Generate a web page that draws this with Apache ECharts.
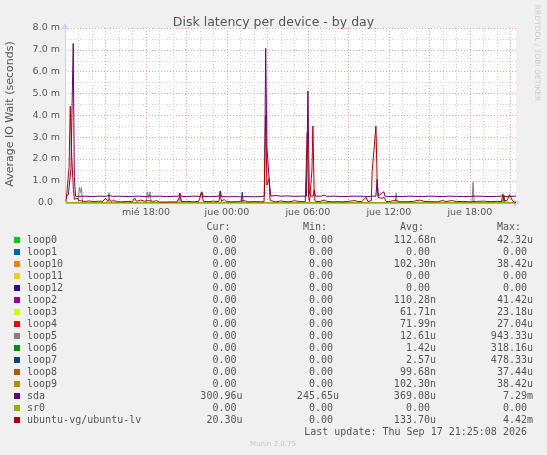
<!DOCTYPE html>
<html>
<head>
<meta charset="utf-8">
<script src="https://cdn.jsdelivr.net/npm/echarts@6/dist/echarts.min.js"></script>
<style>
  html, body { margin: 0; padding: 0; background: #f0f0f0; }
  #disk-latency { width: 547px; height: 455px; }
</style>
</head>
<body>
<div id="disk-latency"></div>
<script>
// hours counted from Wed 00:00, values in milliseconds (the "m" on the axis)
const xTickHours = [18, 24, 30, 36, 42]
const xTickLabels = ['mié 18:00', 'jue 00:00', 'jue 06:00', 'jue 12:00', 'jue 18:00']

const devices = ['loop0', 'loop1', 'loop10', 'loop11', 'loop12', 'loop2', 'loop3', 'loop4',
  'loop5', 'loop6', 'loop7', 'loop8', 'loop9', 'sda', 'sr0', 'ubuntu-vg/ubuntu-lv']
const colors = ['#00CC00', '#0066B3', '#FF8000', '#FFCC00', '#330099', '#990099', '#CCFF00', '#FF0000',
  '#808080', '#008F00', '#00487D', '#B35A00', '#B38F00', '#6B006B', '#8FB300', '#B30000']

const curText = ['0.00', '0.00', '0.00', '0.00', '0.00', '0.00', '0.00', '0.00',
  '0.00', '0.00', '0.00', '0.00', '0.00', '300.96u', '0.00', '20.30u']
const minText = ['0.00', '0.00', '0.00', '0.00', '0.00', '0.00', '0.00', '0.00',
  '0.00', '0.00', '0.00', '0.00', '0.00', '245.65u', '0.00', '0.00']
const avgText = ['112.68n', '0.00', '102.30n', '0.00', '0.00', '110.28n', '61.71n', '71.99n',
  '12.61u', '1.42u', '2.57u', '99.68n', '102.30n', '369.08u', '0.00', '133.70u']
const maxText = ['42.32u', '0.00', '38.42u', '0.00', '0.00', '41.42u', '23.18u', '27.04u',
  '943.33u', '318.16u', '478.33u', '37.44u', '38.42u', '7.29m', '0.00', '4.42m']

const flat = [[12.08, 0], [45.42, 0]]

const loop5 = [[12.08, 0], [12.98, 0], [13.07, 0.70], [13.15, 0.45], [13.22, 0.70], [13.30, 0],
  [15.18, 0], [15.26, 0.46], [15.34, 0], [18.02, 0], [18.10, 0.50], [18.20, 0.20], [18.30, 0.50],
  [18.38, 0], [20.44, 0], [20.52, 0.43], [20.60, 0], [36.46, 0], [36.54, 0.44], [36.62, 0],
  [42.16, 0], [42.24, 0.94], [42.32, 0], [44.44, 0], [44.52, 0.35], [44.60, 0], [45.42, 0]]
const loop6 = [[12.08, 0], [44.44, 0], [44.52, 0.32], [44.60, 0], [45.42, 0]]
const loop7 = [[12.08, 0], [25.05, 0], [25.13, 0.48], [25.21, 0], [45.42, 0]]

const sda = [[12.08, 0.30], [12.25, 0.36], [12.44, 1.55], [12.52, 1.55], [12.61, 7.29], [12.69, 1.20],
  [12.78, 0.30], [13.10, 0.29], [13.50, 0.30], [14.00, 0.28], [14.50, 0.30], [15.00, 0.29],
  [15.27, 0.33], [15.50, 0.29], [16.00, 0.30], [16.50, 0.28], [17.00, 0.29], [17.50, 0.30],
  [18.00, 0.28], [18.20, 0.31], [18.50, 0.29], [19.00, 0.30], [19.50, 0.28], [20.00, 0.29],
  [20.42, 0.30], [20.52, 0.43], [20.62, 0.29], [21.00, 0.28], [21.50, 0.30], [22.00, 0.29],
  [22.13, 0.50], [22.25, 0.29], [22.70, 0.28], [23.20, 0.29], [23.42, 0.30], [23.50, 0.54],
  [23.60, 0.28], [24.00, 0.27], [24.50, 0.28], [25.00, 0.27], [25.50, 0.28], [26.00, 0.27],
  [26.50, 0.28], [26.78, 0.30], [26.87, 7.07], [26.96, 2.55], [27.06, 2.52], [27.15, 0.90],
  [27.25, 0.30], [27.60, 0.33], [28.00, 0.30], [28.50, 0.31], [29.00, 0.29], [29.50, 0.30],
  [29.89, 0.30], [30.00, 5.11], [30.10, 0.55], [30.20, 0.30], [30.38, 0.30], [30.47, 0.58],
  [30.56, 0.30], [31.00, 0.30], [31.20, 0.35], [31.40, 0.29], [32.00, 0.30], [32.50, 0.28],
  [33.00, 0.29], [33.50, 0.30], [34.20, 0.29], [34.30, 0.38], [34.40, 0.28], [34.80, 0.30],
  [35.04, 0.30], [35.13, 1.07], [35.22, 0.30], [35.41, 0.40], [35.50, 0.32], [35.63, 0.50],
  [35.72, 0.30], [36.00, 0.28], [36.50, 0.29], [37.00, 0.28], [37.50, 0.30], [38.00, 0.29],
  [38.50, 0.28], [39.00, 0.30], [39.50, 0.29], [40.00, 0.28], [40.50, 0.30], [41.00, 0.29],
  [41.50, 0.28], [42.00, 0.29], [42.50, 0.30], [43.00, 0.29], [43.50, 0.28], [44.00, 0.29],
  [44.35, 0.30], [44.44, 0.36], [44.52, 0.28], [45.00, 0.29], [45.42, 0.30]]

const ubuntuLv = [[12.08, 0.05], [12.22, 0.10], [12.30, 1.60], [12.39, 4.42], [12.47, 2.50],
  [12.54, 2.50], [12.62, 0.60], [12.70, 0.15], [12.80, 0.10], [12.90, 0.22], [13.00, 0.12],
  [13.10, 0.20], [13.20, 0.08], [13.50, 0.06], [13.80, 0.08], [14.10, 0.05], [14.50, 0.07],
  [14.80, 0.06], [15.00, 0.20], [15.15, 0.08], [15.30, 0.15], [15.45, 0.06], [15.60, 0.12],
  [15.80, 0.05], [16.20, 0.04], [16.60, 0.06], [17.00, 0.04], [17.15, 0.22], [17.30, 0.06],
  [17.60, 0.12], [17.90, 0.07], [18.20, 0.10], [18.50, 0.06], [18.80, 0.09], [19.00, 0.03],
  [19.50, 0.03], [20.00, 0.04], [20.30, 0.03], [20.52, 0.30], [20.65, 0.05], [21.00, 0.06],
  [21.50, 0.04], [21.90, 0.06], [22.13, 0.45], [22.25, 0.06], [22.60, 0.05], [23.00, 0.07],
  [23.40, 0.05], [23.50, 0.38], [23.60, 0.06], [23.80, 0.15], [23.95, 0.05], [24.30, 0.04],
  [24.80, 0.05], [25.30, 0.10], [25.50, 0.04], [26.00, 0.05], [26.50, 0.04], [26.75, 0.05],
  [26.87, 4.00], [26.96, 0.80], [27.06, 0.75], [27.12, 1.10], [27.20, 0.10], [27.30, 0.05],
  [27.60, 0.04], [28.00, 0.08], [28.30, 0.05], [28.60, 0.04], [29.00, 0.09], [29.40, 0.05],
  [29.80, 0.05], [29.95, 3.20], [30.05, 0.30], [30.12, 0.05], [30.20, 0.05], [30.30, 1.50],
  [30.37, 3.51], [30.47, 0.20], [30.55, 0.06], [30.90, 0.05], [31.20, 0.12], [31.40, 0.06],
  [31.80, 0.04], [32.20, 0.05], [32.60, 0.04], [33.00, 0.06], [33.50, 0.10], [33.70, 0.05],
  [34.00, 0.05], [34.30, 0.25], [34.45, 0.05], [34.70, 0.10], [34.76, 1.42], [34.89, 1.42],
  [35.04, 3.51], [35.13, 1.00], [35.20, 0.25], [35.35, 0.22], [35.50, 0.20], [35.65, 0.25],
  [35.80, 0.05], [36.10, 0.06], [36.50, 0.12], [36.70, 0.05], [37.20, 0.04], [37.80, 0.06],
  [38.30, 0.12], [38.60, 0.06], [39.00, 0.05], [39.60, 0.04], [40.00, 0.10], [40.20, 0.05],
  [40.70, 0.10], [41.00, 0.05], [41.50, 0.06], [42.00, 0.04], [42.50, 0.06], [43.00, 0.07],
  [43.50, 0.05], [44.00, 0.06], [44.35, 0.05], [44.44, 0.40], [44.55, 0.10], [44.75, 0.10],
  [44.85, 0.05], [44.95, 0.37], [45.05, 0.37], [45.15, 0.10], [45.30, 0.03], [45.42, 0.02]]

const seriesData = [flat, flat, flat, flat, flat, flat, flat, flat,
  loop5, loop6, loop7, flat, flat, sda, flat, ubuntuLv]

const dom = document.getElementById('disk-latency')
const chart = echarts.init(dom)

const sans = 'DejaVu Sans'
const mono = 'DejaVu Sans Mono'
const txt = '#555555'
const axisCol = '#c9d0f5'

// legend block under the graph, drawn as plain text like rrdtool does
const colX = [242.5, 339, 436, 533]
const legend = []
const head = ['Cur:', 'Min:', 'Avg:', 'Max:']
head.forEach((h, i) => {
  legend.push({ type: 'text', x: colX[i] - 12, y: 227.5,
    style: { text: h, font: '10px ' + mono, fill: txt, textAlign: 'right', textVerticalAlign: 'middle' } })
})
const pad = s => /[a-z]$/.test(s) ? s : s + ' '
devices.forEach((d, i) => {
  const y = 240 + i * 12
  legend.push({ type: 'rect', shape: { x: 14, y: y - 3, width: 6, height: 6 }, style: { fill: colors[i] } })
  legend.push({ type: 'text', x: 27, y: y,
    style: { text: d, font: '10px ' + mono, fill: txt, textVerticalAlign: 'middle' } })
  ;[curText, minText, avgText, maxText].forEach((col, j) => {
    legend.push({ type: 'text', x: colX[j], y: y,
      style: { text: pad(col[i]), font: '10px ' + mono, fill: txt, textAlign: 'right', textVerticalAlign: 'middle' } })
  })
})
legend.push({ type: 'text', x: 533, y: 432,
  style: { text: 'Last update: Thu Sep 17 21:25:08 2026 ', font: '10px ' + mono, fill: txt, textAlign: 'right', textVerticalAlign: 'middle' } })
legend.push({ type: 'text', x: 273, y: 444,
  style: { text: 'Munin 2.0.75', font: '7px ' + sans, fill: '#c8c8c8', textAlign: 'center', textVerticalAlign: 'middle' } })
legend.push({ type: 'text', x: 10.5, y: 114, rotation: Math.PI / 2,
  style: { text: 'Average IO Wait (seconds)', font: '11px ' + sans, fill: txt, textAlign: 'center', textVerticalAlign: 'middle' } })
legend.push({ type: 'text', x: 537, y: 53, rotation: -Math.PI / 2,
  style: { text: 'RRDTOOL / TOBI OETIKER', font: '7.5px ' + sans, fill: '#cccccc', textAlign: 'center', textVerticalAlign: 'middle' } })

const xFmt = v => {
  const k = xTickHours.findIndex(h => Math.abs(h - v) < 1e-6)
  return k < 0 ? '' : xTickLabels[k]
}

const option = {
  backgroundColor: '#f0f0f0',
  animation: false,
  title: {
    text: 'Disk latency per device - by day',
    left: 'center',
    top: 11,
    textStyle: { fontFamily: sans, fontSize: 12.5, fontWeight: 'normal', color: txt },
  },
  grid: {
    left: 65, right: 31, top: 28, bottom: 252.3,
    show: true, backgroundColor: '#ffffff', borderWidth: 0,
  },
  xAxis: [
    {
      type: 'value', min: 12, max: 45.42, interval: 1,
      axisLine: { show: true, lineStyle: { color: axisCol }, symbol: ['none', 'arrow'], symbolSize: [6, 7], symbolOffset: [0, 4] },
      axisTick: { show: false },
      axisLabel: { formatter: xFmt, color: txt, fontFamily: sans, fontSize: 9.5, margin: 5, showMinLabel: false, showMaxLabel: false },
      splitLine: { show: true, showMaxLine: false, showMinLine: false, lineStyle: { color: '#cfcfcf', type: [1, 2], width: 1 } },
    },
    {
      type: 'value', min: 12, max: 45.42, interval: 3,
      axisLine: { show: false }, axisTick: { show: false }, axisLabel: { show: false },
      splitLine: { show: true, showMaxLine: false, showMinLine: false, lineStyle: { color: '#eda3a3', type: [1, 2], width: 1 } },
    },
  ],
  yAxis: [
    {
      type: 'value', min: 0, max: 8, interval: 0.5,
      axisLine: { show: false }, axisTick: { show: false }, axisLabel: { show: false },
      splitLine: { show: true, showMinLine: false, lineStyle: { color: '#cfcfcf', type: [1, 2], width: 1 } },
    },
    {
      type: 'value', min: 0, max: 8, interval: 1, position: 'left',
      axisLine: { show: true, lineStyle: { color: axisCol }, symbol: ['none', 'arrow'], symbolSize: [6, 7], symbolOffset: [0, 5] },
      axisTick: { show: false },
      axisLabel: {
        color: txt, fontFamily: sans, fontSize: 9.5, margin: 5,
        formatter: v => v === 0 ? '{z|0.0}' : v.toFixed(1) + ' m',
        rich: { z: { padding: [0, 7, 0, 0], color: txt, fontFamily: sans, fontSize: 9.5 } },
      },
      splitLine: { show: true, showMinLine: false, lineStyle: { color: '#eda3a3', type: [1, 2], width: 1 } },
    },
  ],
  graphic: legend,
  series: devices.map((d, i) => ({
    name: d,
    type: 'line',
    xAxisIndex: 0,
    yAxisIndex: 1,
    data: seriesData[i],
    showSymbol: false,
    symbol: 'none',
    lineStyle: { color: colors[i], width: 1 },
    itemStyle: { color: colors[i] },
    silent: true,
  })),
}

chart.setOption(option)
</script>
</body>
</html>
